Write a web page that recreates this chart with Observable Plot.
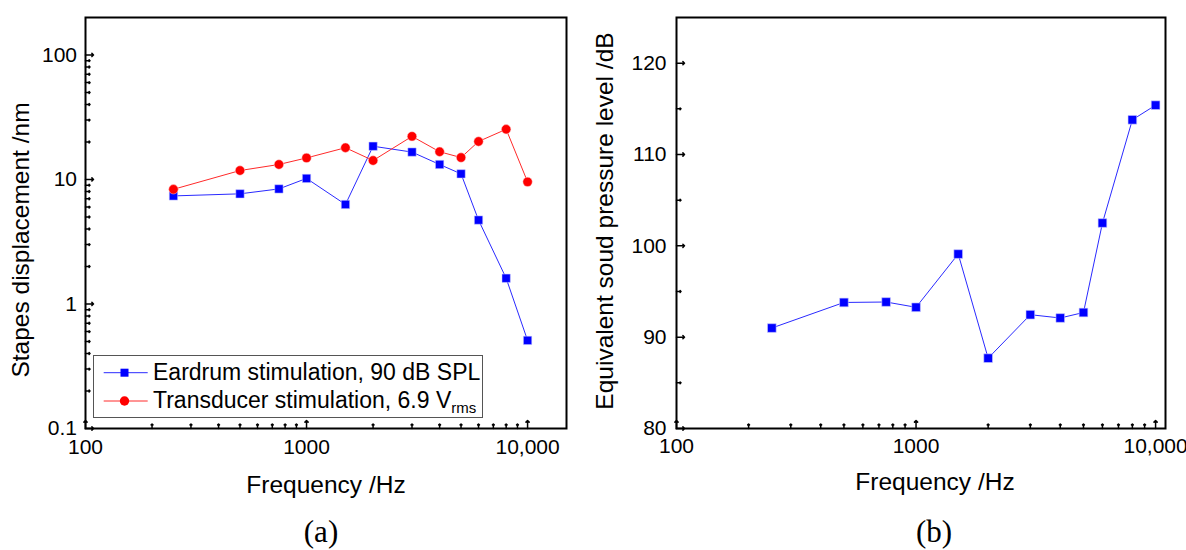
<!DOCTYPE html>
<html>
<head>
<meta charset="utf-8">
<script src="https://cdn.jsdelivr.net/npm/d3@7"></script>
<script src="https://cdn.jsdelivr.net/npm/@observablehq/plot@0.6"></script>
<style>
  body { margin: 0; background: #fff; }
  #wrap { position: relative; width: 1186px; height: 550px; background: #fff; font-family: "Liberation Sans", Arial, sans-serif; }
  #pa { position: absolute; left: 0; top: 0; }
  #pb { position: absolute; left: 593px; top: 0; }
  #legend { position: absolute; left: 93px; top: 355px; width: 388px; height: 61px; border: 1px solid #555; background: #fff; font-size: 23px; color: #000; }
  #legend svg { position: absolute; left: 0; top: 0; }
  .lrow { position: absolute; left: 59px; white-space: nowrap; line-height: 28px; }
  .lrow sub { font-size: 15px; vertical-align: -5px; line-height: 0; }
</style>
</head>
<body>
<div id="wrap">
  <div id="pa"></div>
  <div id="pb"></div>
  <div id="legend"></div>
</div>
<script>
// ---- data ----
const freq = [250, 500, 750, 1000, 1500, 2000, 3000, 4000, 5000, 6000, 8000, 10000];
const eardrum = [7.38, 7.67, 8.4, 10.2, 6.3, 18.5, 16.6, 13.2, 11.1, 4.72, 1.61, 0.51];
const transducer = [8.34, 11.8, 13.2, 14.9, 18.0, 14.2, 22.2, 16.7, 15.0, 20.2, 25.3, 9.57];
const equivSPL = [91.0, 93.8, 93.85, 93.27, 99.1, 87.7, 92.46, 92.1, 92.7, 102.5, 113.8, 115.4];

const seriesNames = ["Eardrum stimulation, 90 dB SPL", "Transducer stimulation, 6.9 V"];
const xMajor = [100, 1000, 10000];
const xTickLabels = ["100", "1000", "10,000"];
const xMinor = [200, 300, 400, 500, 600, 700, 800, 900, 2000, 3000, 4000, 5000, 6000, 7000, 8000, 9000];
const yMajorA = [0.1, 1, 10, 100];
const yTickLabelsA = ["0.1", "1", "10", "100"];
const yMinorA = [0.2, 0.3, 0.4, 0.5, 0.6, 0.7, 0.8, 0.9, 2, 3, 4, 5, 6, 7, 8, 9, 20, 30, 40, 50, 60, 70, 80, 90];
const yMajorB = [80, 90, 100, 110, 120];
const yMinorB = [85, 95, 105, 115];

const blue = "#0000ff", blueLine = "#2a2aff", red = "#ff0000", redLine = "#ff2a2a";
const font = "'Liberation Sans', Arial, sans-serif";

const dataE = freq.map((f, i) => ({f, v: eardrum[i]}));
const dataT = freq.map((f, i) => ({f, v: transducer[i]}));
const dataB = freq.map((f, i) => ({f, v: equivSPL[i]}));

const common = {
  width: 593, height: 550, marginTop: 17, marginBottom: 122,
  style: {fontFamily: font, fontSize: "21px", background: "white", color: "black", overflow: "visible"}
};

function tickMarks(xMaj, xMin, yMaj, yMin) {
  return [
    Plot.vector(xMaj, {x: d => d, frameAnchor: "bottom", length: 8, rotate: 0, anchor: "start", stroke: "black", strokeWidth: 1.5}),
    Plot.vector(xMin, {x: d => d, frameAnchor: "bottom", length: 4.5, rotate: 0, anchor: "start", stroke: "black", strokeWidth: 1.5}),
    Plot.vector(yMaj, {y: d => d, frameAnchor: "left", length: 8, rotate: 90, anchor: "start", stroke: "black", strokeWidth: 1.5}),
    Plot.vector(yMin, {y: d => d, frameAnchor: "left", length: 4.5, rotate: 90, anchor: "start", stroke: "black", strokeWidth: 1.5})
  ];
}

// ---- panel (a) ----
const plotA = Plot.plot({
  ...common,
  marginLeft: 85, marginRight: 27,
  x: {type: "log", domain: [100, 15000], axis: null, label: null},
  y: {type: "log", domain: [0.1, 200], axis: null, label: null},
  marks: [
    Plot.line(dataE, {x: "f", y: "v", stroke: blueLine, strokeWidth: 1}),
    Plot.line(dataT, {x: "f", y: "v", stroke: redLine, strokeWidth: 1}),
    Plot.dot(dataE, {x: "f", y: "v", symbol: "square", r: 4.7, fill: blue, stroke: "#ccccff", strokeWidth: 0.5}),
    Plot.dot(dataT, {x: "f", y: "v", symbol: "circle", r: 4.7, fill: red, stroke: "#ffcccc", strokeWidth: 0.5}),
    Plot.frame({stroke: "black", strokeWidth: 2}),
    ...tickMarks(xMajor, xMinor, yMajorA, yMinorA),
    Plot.axisX({ticks: xMajor, tickFormat: d => xTickLabels[xMajor.indexOf(d)], tickSize: 0, tickPadding: 11, label: null, fontSize: 21}),
    Plot.axisY({ticks: yMajorA, tickFormat: d => yTickLabelsA[yMajorA.indexOf(d)], tickSize: 0, tickPadding: 8.5, label: null, fontSize: 21}),
    Plot.text(["Frequency /Hz"], {frameAnchor: "bottom", dy: 47, lineAnchor: "top", fontSize: 24.5}),
    Plot.text(["Stapes displacement /nm"], {frameAnchor: "left", rotate: -90, textAnchor: "middle", lineAnchor: "top", dx: -73.5, dy: 17, fontSize: 24.5}),
    Plot.text(["(a)"], {frameAnchor: "bottom", dx: -5, dy: 113, lineAnchor: "bottom", fontFamily: "'Liberation Serif', 'Times New Roman', serif", fontSize: 31})
  ]
});
document.getElementById("pa").appendChild(plotA);

// ---- panel (b) ----
const plotB = Plot.plot({
  ...common,
  marginLeft: 83, marginRight: 21,
  x: {type: "log", domain: [100, 11000], axis: null, label: null},
  y: {domain: [80, 125], axis: null, label: null},
  marks: [
    Plot.line(dataB, {x: "f", y: "v", stroke: blueLine, strokeWidth: 1}),
    Plot.dot(dataB, {x: "f", y: "v", symbol: "square", r: 4.9, fill: blue, stroke: "#ccccff", strokeWidth: 0.6}),
    Plot.frame({stroke: "black", strokeWidth: 2}),
    ...tickMarks(xMajor, xMinor, yMajorB, yMinorB),
    Plot.axisX({ticks: xMajor, tickFormat: d => xTickLabels[xMajor.indexOf(d)], tickSize: 0, tickPadding: 10, label: null, fontSize: 21}),
    Plot.axisY({ticks: yMajorB, tickFormat: d => String(d), tickSize: 0, tickPadding: 10, label: null, fontSize: 21}),
    Plot.text(["Frequency /Hz"], {frameAnchor: "bottom", dx: 14, dy: 44, lineAnchor: "top", fontSize: 24.5}),
    Plot.text(["Equivalent soud pressure level /dB"], {frameAnchor: "left", rotate: -90, textAnchor: "middle", lineAnchor: "top", dx: -81, dy: -2, fontSize: 24.5}),
    Plot.text(["(b)"], {frameAnchor: "bottom", dx: 13, dy: 113, lineAnchor: "bottom", fontFamily: "'Liberation Serif', 'Times New Roman', serif", fontSize: 31})
  ]
});
document.getElementById("pb").appendChild(plotB);

// ---- legend ----
const leg = document.getElementById("legend");
leg.innerHTML = `
<svg width="60" height="61">
  <line x1="9.7" x2="53.7" y1="16.7" y2="16.7" stroke="${blueLine}" stroke-width="1"/>
  <rect x="26.5" y="12.7" width="8" height="8" fill="${blue}"/>
  <line x1="9.7" x2="53.7" y1="45" y2="45" stroke="${redLine}" stroke-width="1"/>
  <circle cx="30.5" cy="45" r="4.7" fill="${red}"/>
</svg>
<div class="lrow" style="top:2px">${seriesNames[0]}</div>
<div class="lrow" style="top:30px">${seriesNames[1]}<sub>rms</sub></div>`;
</script>
</body>
</html>
